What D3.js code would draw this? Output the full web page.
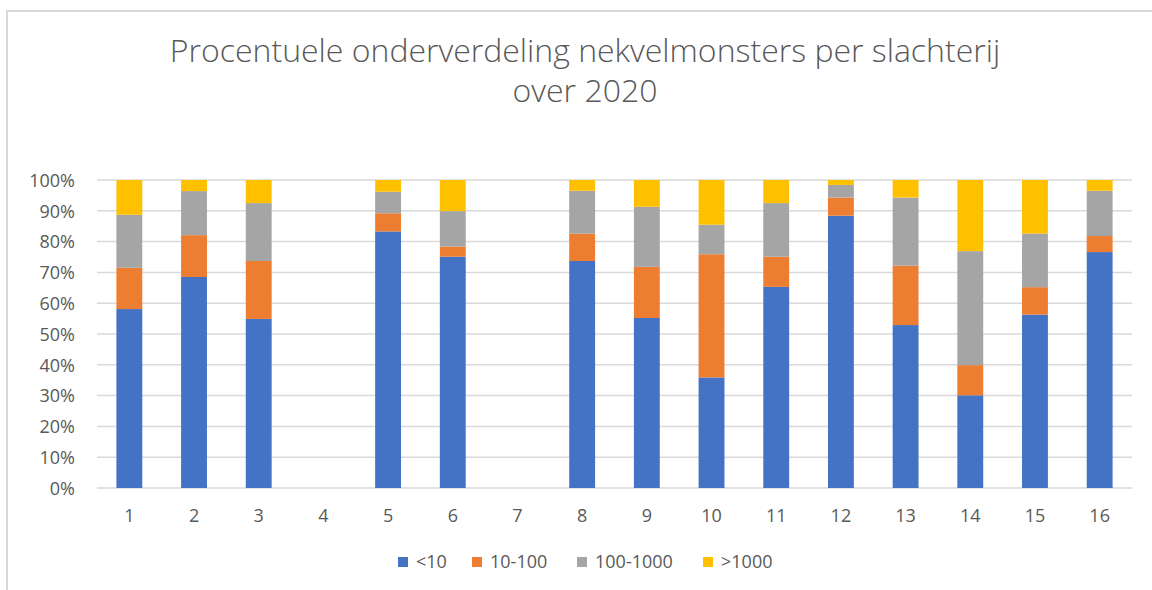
<!DOCTYPE html>
<html>
<head>
<meta charset="utf-8">
<script src="https://cdn.jsdelivr.net/npm/d3@7"></script>
<style>
  body { margin: 0; background: #fff; }
  svg text { font-family: "Open Sans", "Liberation Sans", sans-serif; fill: #595959; }
</style>
</head>
<body>
<svg id="chart"></svg>
<script>
// data
const categories = ["1", "2", "3", "4", "5", "6", "7", "8", "9", "10", "11", "12", "13", "14", "15", "16"];
const seriesNames = ["<10", "10-100", "100-1000", ">1000"];
const seriesColors = ["#4472C4", "#ED7D31", "#A5A5A5", "#FFC000"];
const lt10      = [58.1, 68.5, 54.9, 0, 83.3, 75.1, 0, 73.7, 55.2, 35.9, 65.3, 88.4, 52.9, 30.1, 56.3, 76.6];
const r10_100   = [13.4, 13.6, 18.8, 0,  5.9,  3.3, 0,  8.9, 16.6, 40.0,  9.8,  5.9, 19.3,  9.8,  8.9,  5.2];
const r100_1000 = [17.2, 14.3, 18.8, 0,  7.0, 11.5, 0, 13.9, 19.5,  9.6, 17.4,  4.1, 22.1, 37.0, 17.4, 14.7];
const gt1000    = [11.3,  3.6,  7.5, 0,  3.8, 10.1, 0,  3.5,  8.7, 14.5,  7.5,  1.6,  5.7, 23.1, 17.4,  3.5];
const yTicks = [0, 10, 20, 30, 40, 50, 60, 70, 80, 90, 100];
const titleLines = ["Procentuele onderverdeling nekvelmonsters per slachterij", "over 2020"];

const WIDTH = 1152;
const HEIGHT = 590;
const PLOT = { LEFT: 97, RIGHT: 1132, TOP: 180, BOTTOM: 488 };

let svg = d3.select("#chart")
  .attr("width", WIDTH)
  .attr("height", HEIGHT);

// chart frame
svg.append("rect")
  .attr("x", 7).attr("y", 11)
  .attr("width", WIDTH + 10).attr("height", HEIGHT + 10)
  .attr("fill", "#fff")
  .attr("stroke", "#d9d9d9")
  .attr("stroke-width", 2);

// title
svg.append("g").selectAll("text")
  .data(titleLines)
  .enter()
  .append("text")
    .attr("x", 585)
    .attr("y", (d, i) => 62 + i * 40)
    .attr("text-anchor", "middle")
    .style("font-size", "32px")
    .style("font-weight", 300)
    .text(d => d);

let rows = categories.map((c, i) => ({
  cat: c,
  "<10": lt10[i],
  "10-100": r10_100[i],
  "100-1000": r100_1000[i],
  ">1000": gt1000[i]
}));

let xScale = d3.scaleBand()
  .domain(categories)
  .range([PLOT.LEFT, PLOT.RIGHT])
  .paddingInner(0.6)
  .paddingOuter(0.3);

let yScale = d3.scaleLinear()
  .domain([0, 100])
  .range([PLOT.BOTTOM, PLOT.TOP]);

let color = d3.scaleOrdinal().domain(seriesNames).range(seriesColors);

// gridlines
svg.append("g")
  .selectAll("line")
  .data(yTicks)
  .enter()
  .append("line")
    .attr("x1", PLOT.LEFT)
    .attr("x2", PLOT.RIGHT)
    .attr("y1", d => yScale(d))
    .attr("y2", d => yScale(d))
    .attr("stroke", "#d9d9d9")
    .attr("stroke-width", 1.5);

// y axis labels
let yAxis = svg.append("g")
  .attr("transform", `translate(${PLOT.LEFT - 22},0)`)
  .call(d3.axisLeft(yScale).tickValues(yTicks).tickFormat(d => d + "%").tickSize(0).tickPadding(0));
yAxis.select(".domain").remove();
yAxis.selectAll("text").style("font-size", "18px").attr("dy", "0.35em");

// x axis labels
let xAxis = svg.append("g")
  .attr("transform", `translate(0,${PLOT.BOTTOM})`)
  .call(d3.axisBottom(xScale).tickSize(0).tickPadding(21));
xAxis.select(".domain").remove();
xAxis.selectAll("text").style("font-size", "18px");

// stacked bars
let stack = d3.stack().keys(seriesNames)(rows);

svg.append("g")
  .selectAll("g")
  .data(stack)
  .enter()
  .append("g")
    .attr("fill", d => color(d.key))
  .selectAll("rect")
  .data(d => d)
  .enter()
  .append("rect")
    .attr("x", d => xScale(d.data.cat))
    .attr("y", d => yScale(d[1]))
    .attr("width", xScale.bandwidth())
    .attr("height", d => yScale(d[0]) - yScale(d[1]));

// legend
let legendX = [398, 472, 577, 703];
let legend = svg.append("g")
  .selectAll("g")
  .data(seriesNames)
  .enter()
  .append("g")
    .attr("transform", (d, i) => `translate(${legendX[i]},562)`);

legend.append("rect")
  .attr("x", 0).attr("y", -5)
  .attr("width", 10).attr("height", 10)
  .attr("fill", d => color(d));

legend.append("text")
  .attr("x", 18)
  .attr("dy", "0.35em")
  .style("font-size", "18px")
  .text(d => d);
</script>
</body>
</html>
